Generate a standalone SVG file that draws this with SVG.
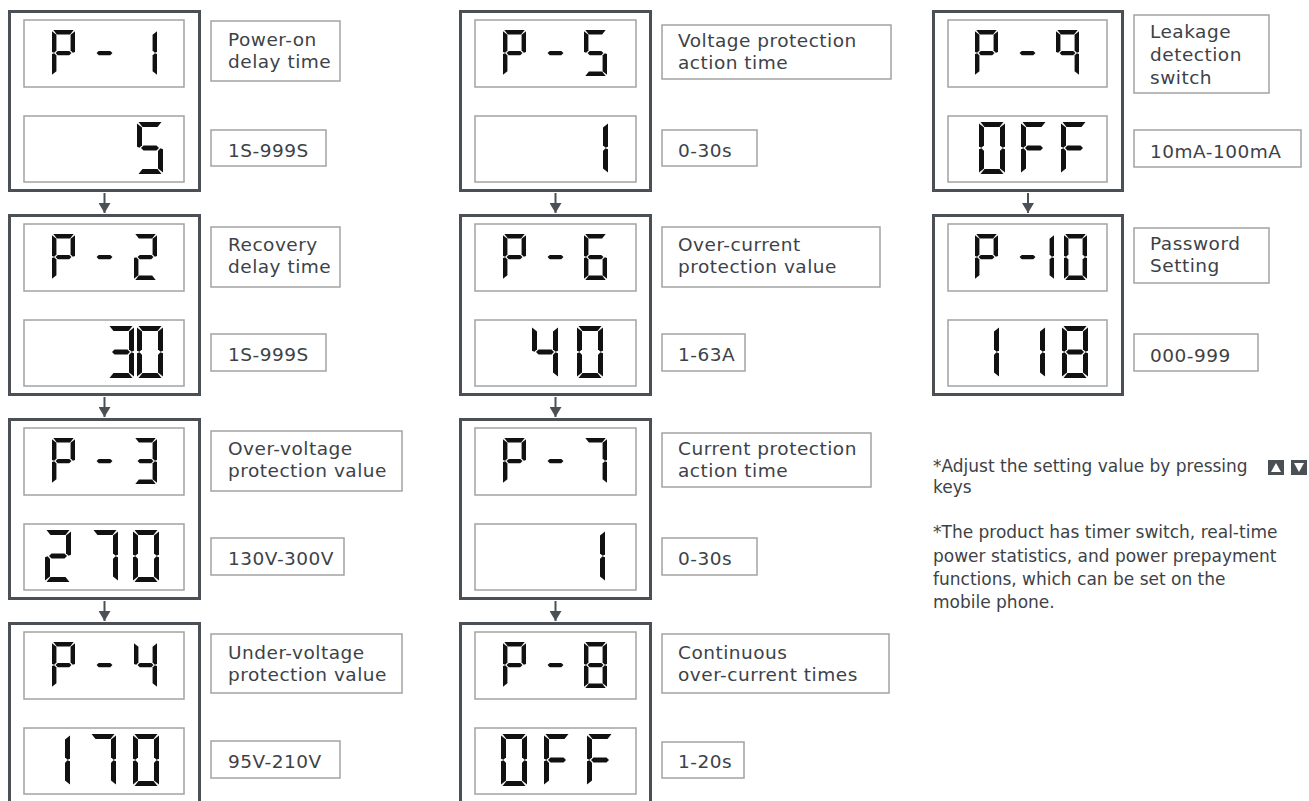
<svg xmlns="http://www.w3.org/2000/svg" xmlns:xlink="http://www.w3.org/1999/xlink" width="1309" height="801" viewBox="0 0 1309 801">
<style>
.ob{fill:none;stroke:#4a5056;stroke-width:3}
.ib{fill:#fff;stroke:#a3a3a3;stroke-width:1.5}
.lb{fill:#fff;stroke:#a3a3a3;stroke-width:1.5}
.t{font-family:"DejaVu Sans","Liberation Sans",sans-serif;font-size:18.5px;letter-spacing:0.5px;fill:#3d4247}
.n{font-family:"DejaVu Sans","Liberation Sans",sans-serif;font-size:17px;fill:#3d4247}
.seg{fill:#111}
.cn{stroke:#4a5056;stroke-width:2;fill:none}
</style>
<defs>
<marker id="ah" viewBox="0 0 10 12" refX="10" refY="6" markerWidth="10" markerHeight="12" markerUnits="userSpaceOnUse" orient="auto">
<path d="M0,0 L10,6 L0,12 z" fill="#4a5056"/>
</marker>
<polygon id="sa" class="seg" points="1.5,0 24.5,0 20.5,5 5.5,5"/>
<polygon id="sb" class="seg" points="26,1.5 26,24.8 23.5,25.7 21,23.3 21,5.5"/>
<polygon id="sc" class="seg" points="26,27.2 26,50.5 21,46.5 21,28.7 23.5,26.3"/>
<polygon id="sd" class="seg" points="1.5,52 24.5,52 20.5,47 5.5,47"/>
<polygon id="se" class="seg" points="0,27.2 0,50.5 5,46.5 5,28.7 2.5,26.3"/>
<polygon id="sf" class="seg" points="0,1.5 0,24.8 2.5,25.7 5,23.3 5,5.5"/>
<polygon id="sg" class="seg" points="4,26 6.5,23.6 19.5,23.6 22,26 19.5,28.4 6.5,28.4"/>
<g id="d0"><use href="#sa"/><use href="#sb"/><use href="#sc"/><use href="#sd"/><use href="#se"/><use href="#sf"/></g>
<g id="d1"><use href="#sb"/><use href="#sc"/></g>
<g id="d2"><use href="#sa"/><use href="#sb"/><use href="#sg"/><use href="#se"/><use href="#sd"/></g>
<g id="d3"><use href="#sa"/><use href="#sb"/><use href="#sg"/><use href="#sc"/><use href="#sd"/></g>
<g id="d4"><use href="#sf"/><use href="#sg"/><use href="#sb"/><use href="#sc"/></g>
<g id="d5"><use href="#sa"/><use href="#sf"/><use href="#sg"/><use href="#sc"/><use href="#sd"/></g>
<g id="d6"><use href="#sa"/><use href="#sf"/><use href="#sg"/><use href="#se"/><use href="#sc"/><use href="#sd"/></g>
<g id="d7"><use href="#sa"/><use href="#sb"/><use href="#sc"/></g>
<g id="d8"><use href="#sa"/><use href="#sb"/><use href="#sc"/><use href="#sd"/><use href="#se"/><use href="#sf"/><use href="#sg"/></g>
<g id="d9"><use href="#sa"/><use href="#sb"/><use href="#sc"/><use href="#sf"/><use href="#sg"/></g>
<g id="dP"><use href="#sa"/><use href="#sb"/><use href="#se"/><use href="#sf"/><use href="#sg"/></g>
<g id="dF"><use href="#sa"/><use href="#se"/><use href="#sf"/><use href="#sg"/></g>
<g id="dm"><use href="#sg"/></g>
</defs>
<rect width="1309" height="801" fill="#fff"/>

<g id="p1">
<rect class="ob" x="9.5" y="11.5" width="190" height="179"/>
<rect class="ib" x="24" y="20" width="160" height="67"/>
<rect class="ib" x="24" y="116" width="160" height="66"/>
<use href="#dP" transform="translate(52,30) scale(0.885)"/>
<use href="#dm" transform="translate(93,30) scale(0.885)"/>
<use href="#d1" transform="translate(134,30) scale(0.885)"/>
<use href="#d5" transform="translate(137,122)"/>
<rect class="lb" x="211" y="21" width="129" height="60"/>
<text class="t"><tspan x="228" y="46">Power-on</tspan><tspan x="228" y="68">delay time</tspan></text>
<rect class="lb" x="211" y="130" width="115" height="36"/>
<text class="t" x="228" y="157">1S-999S</text>
</g>

<g id="p2">
<rect class="ob" x="9.5" y="215.5" width="190" height="179"/>
<rect class="ib" x="24" y="224" width="160" height="67"/>
<rect class="ib" x="24" y="320" width="160" height="66"/>
<use href="#dP" transform="translate(52,234) scale(0.885)"/>
<use href="#dm" transform="translate(93,234) scale(0.885)"/>
<use href="#d2" transform="translate(134,234) scale(0.885)"/>
<use href="#d3" transform="translate(108,326)"/>
<use href="#d0" transform="translate(137,326)"/>
<rect class="lb" x="211" y="227" width="129" height="60"/>
<text class="t"><tspan x="228" y="251">Recovery</tspan><tspan x="228" y="273">delay time</tspan></text>
<rect class="lb" x="211" y="334" width="115" height="37"/>
<text class="t" x="228" y="361">1S-999S</text>
</g>

<g id="p3">
<rect class="ob" x="9.5" y="419.5" width="190" height="179"/>
<rect class="ib" x="24" y="428" width="160" height="67"/>
<rect class="ib" x="24" y="524" width="160" height="66"/>
<use href="#dP" transform="translate(52,438) scale(0.885)"/>
<use href="#dm" transform="translate(93,438) scale(0.885)"/>
<use href="#d3" transform="translate(134,438) scale(0.885)"/>
<use href="#d2" transform="translate(45,530)"/>
<use href="#d7" transform="translate(92,530)"/>
<use href="#d0" transform="translate(133,530)"/>
<rect class="lb" x="211" y="431" width="191" height="60"/>
<text class="t"><tspan x="228" y="455">Over-voltage</tspan><tspan x="228" y="477">protection value</tspan></text>
<rect class="lb" x="211" y="538" width="133" height="37"/>
<text class="t" x="228" y="565">130V-300V</text>
</g>

<g id="p4">
<rect class="ob" x="9.5" y="623.5" width="190" height="179"/>
<rect class="ib" x="24" y="632" width="160" height="67"/>
<rect class="ib" x="24" y="728" width="160" height="66"/>
<use href="#dP" transform="translate(52,642) scale(0.885)"/>
<use href="#dm" transform="translate(93,642) scale(0.885)"/>
<use href="#d4" transform="translate(134,642) scale(0.885)"/>
<use href="#d1" transform="translate(44,734)"/>
<use href="#d7" transform="translate(90,734)"/>
<use href="#d0" transform="translate(133,734)"/>
<rect class="lb" x="211" y="634" width="191" height="59"/>
<text class="t"><tspan x="228" y="659">Under-voltage</tspan><tspan x="228" y="681">protection value</tspan></text>
<rect class="lb" x="211" y="741" width="129" height="37"/>
<text class="t" x="228" y="768">95V-210V</text>
</g>

<g id="p5">
<rect class="ob" x="460.5" y="11.5" width="190" height="179"/>
<rect class="ib" x="475" y="20" width="161" height="67"/>
<rect class="ib" x="475" y="116" width="161" height="66"/>
<use href="#dP" transform="translate(503,30) scale(0.885)"/>
<use href="#dm" transform="translate(544,30) scale(0.885)"/>
<use href="#d5" transform="translate(584,30) scale(0.885)"/>
<use href="#d1" transform="translate(582,122)"/>
<rect class="lb" x="662" y="25" width="229" height="54"/>
<text class="t"><tspan x="678" y="47">Voltage protection</tspan><tspan x="678" y="69">action time</tspan></text>
<rect class="lb" x="662" y="130" width="95" height="36"/>
<text class="t" x="678" y="157">0-30s</text>
</g>

<g id="p6">
<rect class="ob" x="460.5" y="215.5" width="190" height="179"/>
<rect class="ib" x="475" y="224" width="161" height="67"/>
<rect class="ib" x="475" y="320" width="161" height="66"/>
<use href="#dP" transform="translate(503,234) scale(0.885)"/>
<use href="#dm" transform="translate(544,234) scale(0.885)"/>
<use href="#d6" transform="translate(584,234) scale(0.885)"/>
<use href="#d4" transform="translate(532,326)"/>
<use href="#d0" transform="translate(577,326)"/>
<rect class="lb" x="662" y="227" width="218" height="60"/>
<text class="t"><tspan x="678" y="251">Over-current</tspan><tspan x="678" y="273">protection value</tspan></text>
<rect class="lb" x="662" y="334" width="83" height="37"/>
<text class="t" x="678" y="361">1-63A</text>
</g>

<g id="p7">
<rect class="ob" x="460.5" y="419.5" width="190" height="179"/>
<rect class="ib" x="475" y="428" width="161" height="67"/>
<rect class="ib" x="475" y="524" width="161" height="66"/>
<use href="#dP" transform="translate(503,438) scale(0.885)"/>
<use href="#dm" transform="translate(544,438) scale(0.885)"/>
<use href="#d7" transform="translate(584,438) scale(0.885)"/>
<use href="#d1" transform="translate(579,530)"/>
<rect class="lb" x="662" y="433" width="209" height="54"/>
<text class="t"><tspan x="678" y="455">Current protection</tspan><tspan x="678" y="477">action time</tspan></text>
<rect class="lb" x="662" y="538" width="95" height="37"/>
<text class="t" x="678" y="565">0-30s</text>
</g>

<g id="p8">
<rect class="ob" x="460.5" y="623.5" width="190" height="179"/>
<rect class="ib" x="475" y="632" width="161" height="67"/>
<rect class="ib" x="475" y="728" width="161" height="66"/>
<use href="#dP" transform="translate(503,642) scale(0.885)"/>
<use href="#dm" transform="translate(544,642) scale(0.885)"/>
<use href="#d8" transform="translate(584,642) scale(0.885)"/>
<use href="#d0" transform="translate(501,734)"/>
<use href="#dF" transform="translate(544,734)"/>
<use href="#dF" transform="translate(587,734)"/>
<rect class="lb" x="662" y="634" width="227" height="59"/>
<text class="t"><tspan x="678" y="659">Continuous</tspan><tspan x="678" y="681">over-current times</tspan></text>
<rect class="lb" x="662" y="742" width="82" height="36"/>
<text class="t" x="678" y="768">1-20s</text>
</g>

<g id="p9">
<rect class="ob" x="933.5" y="11.5" width="189" height="179"/>
<rect class="ib" x="948" y="20" width="159" height="67"/>
<rect class="ib" x="948" y="116" width="159" height="66"/>
<use href="#dP" transform="translate(975,30) scale(0.885)"/>
<use href="#dm" transform="translate(1016,30) scale(0.885)"/>
<use href="#d9" transform="translate(1056,30) scale(0.885)"/>
<use href="#d0" transform="translate(979,122)"/>
<use href="#dF" transform="translate(1021,122)"/>
<use href="#dF" transform="translate(1061,122)"/>
<rect class="lb" x="1134" y="15" width="135" height="78"/>
<text class="t"><tspan x="1150" y="38">Leakage</tspan><tspan x="1150" y="61">detection</tspan><tspan x="1150" y="84">switch</tspan></text>
<rect class="lb" x="1134" y="130" width="167" height="37"/>
<text class="t" x="1150" y="158">10mA-100mA</text>
</g>

<g id="p10">
<rect class="ob" x="933.5" y="215.5" width="189" height="179"/>
<rect class="ib" x="948" y="224" width="159" height="67"/>
<rect class="ib" x="948" y="320" width="159" height="66"/>
<use href="#dP" transform="translate(975,234) scale(0.885)"/>
<use href="#dm" transform="translate(1016,234) scale(0.885)"/>
<use href="#d1" transform="translate(1031,234) scale(0.885)"/>
<use href="#d0" transform="translate(1064,234) scale(0.885)"/>
<use href="#d1" transform="translate(973,326)"/>
<use href="#d1" transform="translate(1019,326)"/>
<use href="#d8" transform="translate(1062,326)"/>
<rect class="lb" x="1134" y="228" width="135" height="55"/>
<text class="t"><tspan x="1150" y="250">Password</tspan><tspan x="1150" y="272">Setting</tspan></text>
<rect class="lb" x="1134" y="334" width="124" height="37"/>
<text class="t" x="1150" y="362">000-999</text>
</g>

<g id="connectors">
<line class="cn" x1="104.5" y1="193" x2="104.5" y2="213" marker-end="url(#ah)"/>
<line class="cn" x1="104.5" y1="397" x2="104.5" y2="417" marker-end="url(#ah)"/>
<line class="cn" x1="104.5" y1="601" x2="104.5" y2="621" marker-end="url(#ah)"/>
<line class="cn" x1="555.5" y1="193" x2="555.5" y2="213" marker-end="url(#ah)"/>
<line class="cn" x1="555.5" y1="397" x2="555.5" y2="417" marker-end="url(#ah)"/>
<line class="cn" x1="555.5" y1="601" x2="555.5" y2="621" marker-end="url(#ah)"/>
<line class="cn" x1="1028" y1="193" x2="1028" y2="213" marker-end="url(#ah)"/>
</g>

<g id="notes">
<text class="n"><tspan x="933" y="472">*Adjust the setting value by pressing</tspan><tspan x="933" y="493">keys</tspan></text>
<rect x="1268" y="460" width="16" height="15" fill="#4a5056"/>
<polygon points="1271,472 1281,472 1276,463" fill="#fff"/>
<rect x="1291" y="460" width="16" height="15" fill="#4a5056"/>
<polygon points="1294,463 1304,463 1299,472" fill="#fff"/>
<text class="n"><tspan x="933" y="538">*The product has timer switch, real-time</tspan><tspan x="933" y="562">power statistics, and power prepayment</tspan><tspan x="933" y="585">functions, which can be set on the</tspan><tspan x="933" y="608">mobile phone.</tspan></text>
</g>
</svg>
